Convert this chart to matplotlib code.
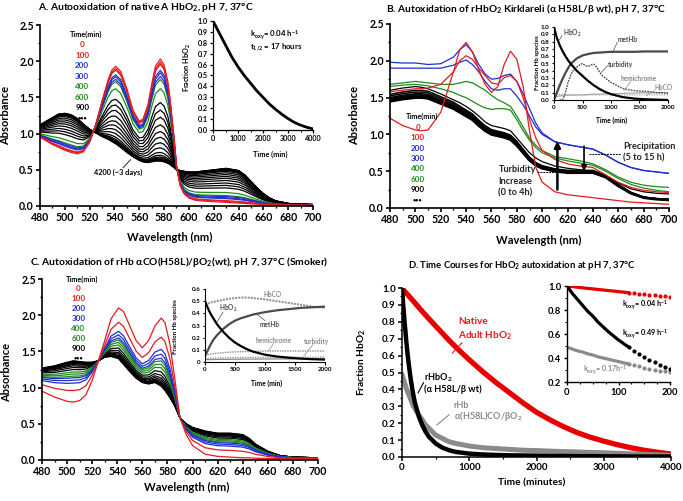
import numpy as np
import matplotlib
matplotlib.use('Agg')
import matplotlib.pyplot as plt
import matplotlib.font_manager as fm
from matplotlib.ticker import MultipleLocator, FormatStrFormatter

_bold_lato = [f for f in fm.fontManager.ttflist if f.name == 'Lato' and f.weight in (700, 'bold', 800, 900)]
MAINFONT = 'Lato' if _bold_lato else 'Open Sans'
plt.rcParams['font.family'] = [MAINFONT, 'DejaVu Sans']
plt.rcParams['font.weight'] = 'bold'
plt.rcParams['axes.labelweight'] = 'bold'
plt.rcParams['mathtext.fontset'] = 'custom'
plt.rcParams['mathtext.rm'] = MAINFONT + ':bold'
plt.rcParams['mathtext.it'] = MAINFONT + ':bold'
plt.rcParams['mathtext.bf'] = MAINFONT + ':bold'
plt.rcParams['mathtext.default'] = 'rm'

RED = '#e41b1f'
BLUE = '#1f2fd0'
GREEN = '#1c8c1c'
GRAY = '#8a8a8a'
DGRAY = '#4a4a4a'
LGRAY = '#a8a8a8'

# ---------------- Panel A data ----------------
wl_A = [480, 485, 490, 495, 500, 505, 510, 515, 520, 523, 525, 530, 535, 538, 541, 545,
        550, 555, 560, 563, 567, 570, 573, 577, 580, 583, 585, 588, 590, 593, 596, 600,
        605, 610, 620, 630, 640, 645, 650, 655, 660, 665, 670, 680, 690, 700]
hbo2_A = [0.95, 0.90, 0.85, 0.81, 0.77, 0.74, 0.72, 0.75, 0.88, 1.03, 1.13, 1.45, 1.75, 1.88, 1.93, 1.86,
          1.62, 1.32, 1.17, 1.20, 1.40, 1.68, 1.93, 2.03, 1.95, 1.72, 1.45, 0.95, 0.55, 0.28, 0.17, 0.11,
          0.08, 0.07, 0.06, 0.05, 0.04, 0.035, 0.03, 0.025, 0.02, 0.02, 0.015, 0.01, 0.01, 0.01]
methb_A = [1.12, 1.17, 1.22, 1.27, 1.28, 1.26, 1.21, 1.13, 1.06, 1.03, 1.01, 0.96, 0.92, 0.89, 0.86, 0.81,
           0.74, 0.68, 0.63, 0.61, 0.60, 0.61, 0.62, 0.62, 0.61, 0.59, 0.57, 0.53, 0.50, 0.49, 0.48, 0.47,
           0.47, 0.48, 0.50, 0.52, 0.49, 0.43, 0.34, 0.25, 0.17, 0.11, 0.07, 0.035, 0.025, 0.02]
fracA_red = [1.0, 0.97, 0.95]
fracA_blue = [0.89, 0.865, 0.83]
fracA_green = [0.80, 0.71]
fracA_black = [0.574, 0.50, 0.43, 0.355, 0.29, 0.234, 0.18, 0.13, 0.085, 0.057, 0.04, 0.028, 0.018, 0.01, 0.004, 0.0]
# inset A
tA = [0, 250, 500, 750, 1000, 1250, 1500, 1750, 2000, 2250, 2500, 2750, 3000, 3250, 3500, 3750, 4000]
fA = [1.0, 0.89, 0.78, 0.67, 0.58, 0.50, 0.43, 0.36, 0.30, 0.24, 0.19, 0.145, 0.105, 0.07, 0.045, 0.025, 0.01]

# ---------------- Panel B data ----------------
wl_B = [480, 490, 500, 505, 510, 520, 530, 535, 540, 545, 550, 555, 560, 565, 570, 575, 580, 585,
        590, 595, 600, 610, 620, 630, 640, 650, 660, 670, 680, 690, 700]
B_red0 = [1.22, 1.12, 1.06, 1.05, 1.06, 1.30, 1.85, 2.15, 2.25, 2.12, 1.88, 1.68, 1.57, 1.65, 1.95, 2.13, 2.02, 1.65,
          1.05, 0.55, 0.35, 0.22, 0.18, 0.16, 0.14, 0.12, 0.10, 0.08, 0.07, 0.06, 0.05]
B_red100 = [1.58, 1.60, 1.62, 1.62, 1.63, 1.68, 1.85, 2.00, 2.07, 2.02, 1.90, 1.80, 1.70, 1.68, 1.77, 1.80, 1.72, 1.50,
            1.20, 0.95, 0.78, 0.66, 0.60, 0.57, 0.55, 0.45, 0.35, 0.28, 0.24, 0.22, 0.21]
B_blue200 = [1.98, 1.97, 1.97, 1.96, 1.95, 1.96, 2.05, 2.15, 2.22, 2.12, 1.95, 1.82, 1.75, 1.76, 1.80, 1.82, 1.72, 1.55,
             1.35, 1.15, 1.02, 0.90, 0.86, 0.83, 0.80, 0.72, 0.62, 0.55, 0.51, 0.49, 0.47]
B_blue300 = [1.90, 1.90, 1.90, 1.90, 1.90, 1.90, 1.94, 1.98, 2.01, 1.95, 1.85, 1.72, 1.62, 1.60, 1.62, 1.62, 1.52, 1.40,
             1.25, 1.10, 1.00, 0.90, 0.86, 0.83, 0.80, 0.72, 0.62, 0.55, 0.51, 0.49, 0.47]
B_green400 = [1.68, 1.70, 1.72, 1.71, 1.70, 1.68, 1.68, 1.70, 1.72, 1.70, 1.65, 1.60, 1.53, 1.47, 1.43, 1.38, 1.25, 1.10,
              0.95, 0.85, 0.78, 0.70, 0.67, 0.64, 0.60, 0.52, 0.42, 0.35, 0.31, 0.29, 0.28]
B_green600 = [1.65, 1.67, 1.68, 1.67, 1.66, 1.62, 1.57, 1.53, 1.50, 1.45, 1.40, 1.36, 1.34, 1.35, 1.35, 1.33, 1.20, 1.05,
              0.92, 0.82, 0.75, 0.68, 0.64, 0.61, 0.58, 0.50, 0.40, 0.32, 0.27, 0.24, 0.22]
B_black900 = [1.60, 1.63, 1.65, 1.64, 1.62, 1.55, 1.47, 1.43, 1.38, 1.32, 1.25, 1.17, 1.12, 1.10, 1.08, 1.05, 0.95, 0.85,
              0.75, 0.68, 0.63, 0.57, 0.54, 0.52, 0.50, 0.43, 0.34, 0.26, 0.22, 0.20, 0.19]
B_black_final = [1.45, 1.48, 1.50, 1.50, 1.49, 1.42, 1.35, 1.30, 1.25, 1.20, 1.12, 1.05, 1.00, 0.98, 0.96, 0.93, 0.85, 0.75,
                 0.65, 0.58, 0.54, 0.50, 0.48, 0.48, 0.48, 0.42, 0.30, 0.20, 0.14, 0.12, 0.11]
B_black_scale = [1.0, 1.008, 1.016, 1.025, 1.035, 1.05, 1.065]
# inset B
tB = [0, 50, 100, 150, 200, 250, 300, 400, 500, 600, 700, 800, 900, 1000, 1200, 1400, 1600, 1800, 2000]
B_hbo2 = [1.0, 0.85, 0.75, 0.67, 0.60, 0.54, 0.49, 0.40, 0.33, 0.26, 0.20, 0.15, 0.11, 0.08, 0.04, 0.02, 0.01, 0.005, 0.0]
B_methb = [0.0, 0.10, 0.20, 0.29, 0.37, 0.44, 0.50, 0.57, 0.61, 0.63, 0.645, 0.65, 0.655, 0.66, 0.66, 0.66, 0.665, 0.665, 0.665]
B_hemi = [0.05, 0.05, 0.055, 0.06, 0.06, 0.065, 0.065, 0.07, 0.07, 0.075, 0.08, 0.08, 0.085, 0.085, 0.09, 0.095, 0.10, 0.10, 0.10]
B_hbco = [0.08, 0.08, 0.078, 0.076, 0.075, 0.074, 0.073, 0.072, 0.071, 0.07, 0.07, 0.07, 0.07, 0.07, 0.07, 0.07, 0.07, 0.07, 0.07]
tB_turb = [100, 150, 200, 250, 300, 350, 400, 450, 500, 550, 600, 650, 700, 750, 800, 850, 900, 950, 1000,
           1100, 1200, 1300, 1400, 1500, 1600, 1700, 1800, 1900, 2000]
B_turb = [0.0, 0.0, 0.10, 0.25, 0.35, 0.42, 0.45, 0.48, 0.50, 0.47, 0.46, 0.48, 0.49, 0.45, 0.38, 0.33, 0.30, 0.27, 0.24,
          0.20, 0.16, 0.14, 0.13, 0.12, 0.12, 0.11, 0.10, 0.10, 0.09]

# ---------------- Panel C data ----------------
wl_C = [480, 490, 500, 505, 510, 515, 520, 525, 530, 535, 541, 545, 550, 555, 560, 565, 570, 575, 578, 582,
        586, 590, 595, 600, 610, 620, 630, 640, 645, 650, 660, 670, 680, 690, 700]
C_start = [0.95, 0.87, 0.81, 0.80, 0.82, 0.90, 1.10, 1.37, 1.65, 1.95, 2.10, 2.05, 1.85, 1.65, 1.55, 1.65, 1.85, 1.96, 1.90, 1.60,
           1.10, 0.58, 0.35, 0.20, 0.08, 0.05, 0.04, 0.03, 0.03, 0.025, 0.02, 0.02, 0.02, 0.02, 0.02]
C_final = [1.27, 1.30, 1.35, 1.37, 1.36, 1.35, 1.35, 1.37, 1.42, 1.43, 1.40, 1.32, 1.22, 1.13, 1.07, 1.05, 1.07, 1.02, 0.96, 0.86,
           0.74, 0.58, 0.50, 0.45, 0.40, 0.37, 0.37, 0.35, 0.30, 0.22, 0.12, 0.06, 0.04, 0.035, 0.03]
fracC_red = [1.0, 0.72]
fracC_blue = [0.54, 0.47, 0.41]
fracC_green = [0.37, 0.32, 0.27]
fracC_black = [0.21, 0.16, 0.12, 0.09, 0.065, 0.045, 0.03, 0.018, 0.008, 0.0]
# inset C
tC = [0, 50, 100, 150, 200, 300, 400, 500, 600, 700, 800, 1000, 1200, 1400, 1600, 1800, 2000]
C_hbco = [0.47, 0.48, 0.49, 0.495, 0.50, 0.51, 0.52, 0.525, 0.53, 0.53, 0.525, 0.515, 0.50, 0.485, 0.47, 0.455, 0.445]
C_hbo2 = [0.50, 0.44, 0.39, 0.35, 0.31, 0.25, 0.20, 0.16, 0.13, 0.105, 0.085, 0.06, 0.045, 0.035, 0.028, 0.023, 0.02]
C_methb = [0.05, 0.10, 0.15, 0.19, 0.22, 0.27, 0.31, 0.34, 0.36, 0.375, 0.39, 0.41, 0.425, 0.435, 0.445, 0.45, 0.455]
C_hemi = [0.055, 0.06, 0.065, 0.07, 0.072, 0.077, 0.08, 0.083, 0.085, 0.087, 0.088, 0.09, 0.09, 0.09, 0.09, 0.09, 0.09]
C_turb = [0.03, 0.03, 0.031, 0.032, 0.033, 0.034, 0.035, 0.036, 0.037, 0.038, 0.038, 0.039, 0.04, 0.04, 0.04, 0.04, 0.04]
C_base = [0.02, 0.02, 0.02, 0.021, 0.021, 0.022, 0.022, 0.023, 0.023, 0.024, 0.024, 0.025, 0.025, 0.025, 0.026, 0.026, 0.026]

# ---------------- Panel D data ----------------
tD = [0, 10, 20, 30, 40, 50, 60, 70, 80, 90, 100, 110, 120, 130, 140, 150, 160, 170, 180, 190, 200,
      250, 300, 350, 400, 500, 600, 700, 800, 1000, 1200, 1400, 1600, 1800, 2000, 2200, 2400, 2600,
      2800, 3000, 3200, 3400, 3600, 3800, 4000]
D_native = [1.0, 0.995, 0.99, 0.985, 0.98, 0.976, 0.971, 0.967, 0.962, 0.958, 0.953, 0.949, 0.944, 0.94, 0.935,
            0.931, 0.926, 0.922, 0.917, 0.913, 0.908, 0.885, 0.862, 0.84, 0.818, 0.775, 0.733, 0.69, 0.65, 0.575,
            0.505, 0.44, 0.38, 0.32, 0.265, 0.22, 0.18, 0.145, 0.117, 0.094, 0.073, 0.055, 0.04, 0.028, 0.018]
D_kirk = [1.0, 0.94, 0.89, 0.84, 0.79, 0.75, 0.70, 0.66, 0.62, 0.585, 0.55, 0.52, 0.49, 0.46, 0.435,
          0.41, 0.385, 0.365, 0.345, 0.325, 0.31, 0.24, 0.19, 0.15, 0.12, 0.08, 0.055, 0.04, 0.03, 0.02,
          0.015, 0.012, 0.01, 0.009, 0.008, 0.007, 0.006, 0.005, 0.005, 0.004, 0.004, 0.003, 0.003, 0.003, 0.003]
D_smoker = [0.49, 0.475, 0.46, 0.45, 0.435, 0.425, 0.41, 0.40, 0.39, 0.38, 0.37, 0.36, 0.35, 0.34, 0.33,
            0.32, 0.31, 0.30, 0.295, 0.29, 0.28, 0.25, 0.22, 0.19, 0.17, 0.13, 0.11, 0.09, 0.08, 0.065,
            0.055, 0.05, 0.045, 0.04, 0.038, 0.035, 0.032, 0.03, 0.027, 0.025, 0.022, 0.019, 0.016, 0.013, 0.01]

# ---------------- figure ----------------
W, H = 683, 501
fig = plt.figure(figsize=(W / 100, H / 100), dpi=100)


def px_axes(x0, y0, x1, y1):
    return fig.add_axes([x0 / W, 1 - y1 / H, (x1 - x0) / W, (y1 - y0) / H])


def ftext(x, y, s, **kw):
    kw.setdefault('ha', 'center')
    kw.setdefault('va', 'center')
    return fig.text(x / W, 1 - y / H, s, **kw)


def style(ax, fs, lw=1.0, length=2.5):
    for s in ['top', 'right']:
        ax.spines[s].set_visible(False)
    for s in ['left', 'bottom']:
        ax.spines[s].set_linewidth(lw)
    ax.tick_params(which='major', labelsize=fs, length=length, width=lw, pad=1.5, direction='out')
    ax.tick_params(which='minor', length=length * 0.6, width=lw * 0.8, direction='out')
    for lab in ax.get_xticklabels() + ax.get_yticklabels():
        lab.set_fontweight('bold')


def spectra_axes(ax):
    ax.set_xlim(480, 700)
    ax.set_ylim(0, 2.5)
    ax.xaxis.set_major_locator(MultipleLocator(20))
    ax.xaxis.set_minor_locator(MultipleLocator(10))
    ax.yaxis.set_major_locator(MultipleLocator(0.5))
    ax.yaxis.set_minor_locator(MultipleLocator(0.25))
    ax.yaxis.set_major_formatter(FormatStrFormatter('%.1f'))
    style(ax, 7.6, lw=1.2, length=3)


def time_legend(ax, x, ytop, dy, fs=5.8):
    labels = ['0', '100', '200', '300', '400', '600', '900']
    cols = [RED, RED, BLUE, BLUE, GREEN, GREEN, 'black']
    ax.text(x + 3, ytop, 'Time(min)', fontsize=5.2, ha='center', va='center', color='black')
    for i, (l, c) in enumerate(zip(labels, cols)):
        ax.text(x, ytop - dy * (i + 1), l, fontsize=fs, ha='center', va='center', color=c)
    ax.text(x, ytop - dy * 8, '•••', fontsize=4.0, ha='center', va='center', color='black')


# ===== Panel A =====
axA = px_axes(40, 25, 313, 206)
spectra_axes(axA)
hA = np.array(hbo2_A)
mA = np.array(methb_A)
for f in fracA_black[::-1]:
    axA.plot(wl_A, f * hA + (1 - f) * mA, color='black', lw=0.9)
for fl, col in [(fracA_green, GREEN), (fracA_blue, BLUE), (fracA_red, RED)]:
    for f in fl[::-1]:
        axA.plot(wl_A, f * hA + (1 - f) * mA, color=col, lw=0.9)
time_legend(axA, 514, 2.37, 0.145)
axA.text(543, 0.47, '4200 (~3 days)', fontsize=5.3, ha='center', va='center')
axA.plot([547, 553], [0.53, 0.64], color='black', lw=0.6)
ftext(146, 8, 'A. Autooxidation of native A HbO$_2$, pH 7, 37°C', fontsize=7.4)
ftext(6, 115, 'Absorbance', fontsize=8.0, rotation=90)
ftext(170, 237, 'Wavelength (nm)', fontsize=8.0)

axAi = px_axes(213, 21, 313, 130)
axAi.plot(tA, fA, color='black', lw=2.0)
axAi.set_xlim(0, 4000)
axAi.set_ylim(0, 1.0)
axAi.xaxis.set_major_locator(MultipleLocator(1000))
axAi.xaxis.set_minor_locator(MultipleLocator(500))
axAi.yaxis.set_major_locator(MultipleLocator(0.1))
axAi.yaxis.set_major_formatter(FormatStrFormatter('%.1f'))
axAi.patch.set_alpha(0)
style(axAi, 5.2, lw=0.9, length=2)
axAi.text(1480, 0.87, 'k$_{oxy}$= 0.04 h$^{-1}$', fontsize=5.6, ha='left', va='center')
axAi.text(1480, 0.75, 't$_{1/2}$ = 17 hours', fontsize=5.6, ha='left', va='center')
ftext(187, 68, 'Fraction HbO$_2$', fontsize=5.2, rotation=90)
ftext(270, 154, 'Time (min)', fontsize=5.3)

# ===== Panel B =====
axB = px_axes(390, 24, 669, 208)
spectra_axes(axB)
bf = np.array(B_black_final)
for s in B_black_scale[::-1]:
    axB.plot(wl_B, bf * s, color='black', lw=1.1)
axB.plot(wl_B, bf, color='black', lw=2.0)
axB.plot(wl_B, B_black900, color='black', lw=0.9)
axB.plot(wl_B, B_green600, color=GREEN, lw=0.9)
axB.plot(wl_B, B_green400, color=GREEN, lw=0.9)
axB.plot(wl_B, B_blue300, color=BLUE, lw=0.9)
axB.plot(wl_B, B_blue200, color=BLUE, lw=0.9)
axB.plot(wl_B, B_red100, color=RED, lw=0.9)
axB.plot(wl_B, B_red0, color=RED, lw=0.9)
time_legend(axB, 502, 1.24, 0.142)
axB.annotate('', xy=(612, 0.91), xytext=(612, 0.25),
             arrowprops=dict(arrowstyle='-|>', lw=1.8, color='black', mutation_scale=9, shrinkA=0, shrinkB=0))
axB.annotate('', xy=(633, 0.50), xytext=(633, 0.84),
             arrowprops=dict(arrowstyle='-|>', lw=1.2, color='black', mutation_scale=8, shrinkA=0, shrinkB=0))
axB.plot([596, 611], [0.49, 0.49], color='black', lw=0.7, ls=(0, (2, 1)))
axB.plot([637, 662], [0.74, 0.74], color='black', lw=0.7, ls=(0, (2, 1)))
axB.text(565.5, 0.52, 'Turbidity', fontsize=6.6, ha='left', va='center', color='#222222')
axB.text(565.5, 0.36, 'Increase', fontsize=6.6, ha='left', va='center', color='#222222')
axB.text(565.5, 0.20, '(0 to 4h)', fontsize=6.6, ha='left', va='center', color='#222222')
axB.text(664, 0.84, 'Precipitation', fontsize=6.6, ha='left', va='center', color='#222222')
axB.text(664, 0.68, '(5 to 15 h)', fontsize=6.6, ha='left', va='center', color='#222222')
ftext(526, 9, 'B. Autoxidation of rHbO$_2$ Kirklareli (α H58L/β wt), pH 7, 37°C', fontsize=7.3)
ftext(355, 115, 'Absorbance', fontsize=8.0, rotation=90)
ftext(539, 240, 'Wavelength (nm)', fontsize=8.0)

axBi = px_axes(554, 27, 668, 100)
axBi.patch.set_alpha(0)
axBi.plot(tB, B_hemi, color=LGRAY, lw=0.9)
axBi.plot(tB, B_hbco, color=LGRAY, lw=0.9, ls=(0, (1, 1)))
axBi.plot(tB_turb, B_turb, color=DGRAY, lw=1.0, ls=(0, (1.2, 0.8)))
axBi.plot(tB, B_methb, color=DGRAY, lw=1.6)
axBi.plot(tB, B_hbo2, color='black', lw=1.6)
axBi.set_xlim(0, 2000)
axBi.set_ylim(0, 1.0)
axBi.xaxis.set_major_locator(MultipleLocator(500))
axBi.yaxis.set_major_locator(MultipleLocator(0.1))
axBi.yaxis.set_major_formatter(FormatStrFormatter('%.1f'))
style(axBi, 4.5, lw=0.8, length=1.8)
axBi.text(150, 0.91, 'HbO$_2$', fontsize=4.7, ha='left', va='center', color=DGRAY)
axBi.plot([140, 75], [0.88, 0.80], color=DGRAY, lw=0.5)
axBi.text(1120, 0.83, 'metHb', fontsize=4.7, ha='left', va='center', color=DGRAY)
axBi.plot([1110, 1040], [0.79, 0.67], color=DGRAY, lw=0.5)
axBi.text(950, 0.49, 'turbidity', fontsize=4.7, ha='left', va='center', color=DGRAY)
axBi.plot([940, 830], [0.47, 0.38], color=DGRAY, lw=0.5)
axBi.text(1170, 0.30, 'hemichrome', fontsize=4.7, ha='left', va='center', color=GRAY)
axBi.plot([1350, 1230], [0.26, 0.13], color=GRAY, lw=0.5)
axBi.text(1760, 0.17, 'HbCO', fontsize=4.7, ha='left', va='center', color=GRAY)
axBi.plot([1760, 1620], [0.13, 0.06], color=GRAY, lw=0.5)
ftext(538, 63, 'Fraction Hb species', fontsize=4.5, rotation=90)
ftext(612, 120, 'Time (min)', fontsize=4.8)

# ===== Panel C =====
axC = px_axes(42, 279, 318, 460)
spectra_axes(axC)
cs = np.array(C_start)
cf = np.array(C_final)
for f in fracC_black[::-1]:
    axC.plot(wl_C, f * cs + (1 - f) * cf, color='black', lw=0.9)
for fl, col in [(fracC_green, GREEN), (fracC_blue, BLUE), (fracC_red, RED)]:
    for f in fl[::-1]:
        axC.plot(wl_C, f * cs + (1 - f) * cf, color=col, lw=0.9)
time_legend(axC, 509, 2.50, 0.137)
ftext(179, 262, 'C. Autoxidation of rHb αCO(H58L)/βO$_2$(wt), pH 7, 37°C (Smoker)', fontsize=7.4)
ftext(7, 372, 'Absorbance', fontsize=8.0, rotation=90)
ftext(187, 487, 'Wavelength (nm)', fontsize=8.0)

axCi = px_axes(205, 289, 325, 362)
axCi.patch.set_alpha(0)
axCi.plot(tC, C_base, color=GRAY, lw=0.9)
axCi.plot(tC, C_turb, color=GRAY, lw=0.9, ls=(0, (1, 1)))
axCi.plot(tC, C_hemi, color=GRAY, lw=1.0, ls=(0, (1, 0.8)))
axCi.plot(tC, C_hbco, color=GRAY, lw=1.4, ls=(0, (1, 0.6)))
axCi.plot(tC, C_methb, color=DGRAY, lw=1.6)
axCi.plot(tC, C_hbo2, color='black', lw=1.6)
axCi.set_xlim(0, 2000)
axCi.set_ylim(0, 0.6)
axCi.xaxis.set_major_locator(MultipleLocator(500))
axCi.set_yticks([0, 0.1, 0.2, 0.3, 0.4, 0.5, 0.6])
axCi.set_yticklabels(['0', '0.1', '0.2', '0.3', '0.4', '0.5', '0.6'])
style(axCi, 4.5, lw=0.8, length=1.8)
axCi.text(1120, 0.556, 'HbCO', fontsize=4.7, ha='center', va='center', color=GRAY)
axCi.text(390, 0.44, 'HbO$_2$', fontsize=4.7, ha='center', va='center', color=DGRAY)
axCi.plot([300, 200], [0.41, 0.33], color=DGRAY, lw=0.5)
axCi.text(1070, 0.31, 'metHb', fontsize=4.7, ha='center', va='center', color=DGRAY)
axCi.plot([1000, 870], [0.34, 0.39], color=DGRAY, lw=0.5)
axCi.text(1150, 0.18, 'hemichrome', fontsize=4.7, ha='center', va='center', color=GRAY)
axCi.plot([1150, 1060], [0.155, 0.095], color=GRAY, lw=0.5)
axCi.text(1860, 0.17, 'turbidity', fontsize=4.7, ha='center', va='center', color=GRAY)
axCi.plot([1800, 1650], [0.145, 0.05], color=GRAY, lw=0.5)
ftext(175, 327, 'Fraction Hb species', fontsize=4.5, rotation=90)
ftext(267, 383, 'Time (min)', fontsize=4.8)

# ===== Panel D =====
axD = px_axes(402, 288, 671, 457)
axD.plot(tD, D_native, color='#e60000', lw=3.8, solid_capstyle='round')
axD.plot(tD, D_smoker, color=GRAY, lw=3.6, solid_capstyle='round')
axD.plot(tD, D_kirk, color='black', lw=3.2, solid_capstyle='round')
axD.set_xlim(0, 4000)
axD.set_ylim(0, 1.0)
axD.xaxis.set_major_locator(MultipleLocator(1000))
axD.xaxis.set_minor_locator(MultipleLocator(500))
axD.yaxis.set_major_locator(MultipleLocator(0.1))
axD.yaxis.set_minor_locator(MultipleLocator(0.05))
axD.yaxis.set_major_formatter(FormatStrFormatter('%.1f'))
style(axD, 7.0, lw=1.1, length=3)
axD.text(840, 0.80, 'Native', fontsize=7.2, ha='left', va='center', color=RED)
axD.text(840, 0.715, 'Adult HbO$_2$', fontsize=7.2, ha='left', va='center', color=RED)
axD.plot([890, 750], [0.675, 0.615], color=RED, lw=0.8)
axD.text(330, 0.47, 'rHbO$_2$', fontsize=6.6, ha='left', va='center', color='black')
axD.text(330, 0.40, '(α H58L/β wt)', fontsize=6.6, ha='left', va='center', color='black')
axD.plot([320, 240], [0.44, 0.38], color='black', lw=0.8)
axD.text(770, 0.305, 'rHb', fontsize=6.6, ha='left', va='center', color=GRAY)
axD.text(770, 0.24, 'α(H58L)CO/βO$_2$', fontsize=6.6, ha='left', va='center', color=GRAY)
axD.plot([700, 520], [0.25, 0.19], color=GRAY, lw=0.8)
ftext(522, 265, 'D. Time Courses for HbO$_2$ autoxidation at pH 7, 37°C', fontsize=6.8)
ftext(362, 362, 'Fraction HbO$_2$', fontsize=7.3, rotation=90)
ftext(532, 483, 'Time (minutes)', fontsize=7.3)

axDi = px_axes(567, 286, 670, 382)
axDi.patch.set_alpha(0)
tDa = np.array(tD)
for vals, col in [(D_native, '#e60000'), (D_smoker, GRAY), (D_kirk, 'black')]:
    v = np.array(vals)
    m1 = tDa <= 120
    m2 = (tDa >= 120) & (tDa <= 200)
    axDi.plot(tDa[m1], v[m1], color=col, lw=2.3, solid_capstyle='round')
    axDi.plot(tDa[m2], v[m2], 'o', color=col, ms=3.0, mew=0)
axDi.set_xlim(0, 200)
axDi.set_ylim(0.2, 1.0)
axDi.xaxis.set_major_locator(MultipleLocator(100))
axDi.xaxis.set_minor_locator(MultipleLocator(25))
axDi.yaxis.set_major_locator(MultipleLocator(0.2))
axDi.yaxis.set_minor_locator(MultipleLocator(0.1))
axDi.yaxis.set_major_formatter(FormatStrFormatter('%.1f'))
style(axDi, 6.8, lw=1.0, length=2.5)
axDi.text(107, 0.84, 'k$_{oxy}$= 0.04 h$^{-1}$', fontsize=5.2, ha='left', va='center')
axDi.text(107, 0.60, 'k$_{oxy}$= 0.49 h$^{-1}$', fontsize=5.2, ha='left', va='center')
axDi.text(31, 0.30, 'k$_{oxy}$= 0.17h$^{-1}$', fontsize=5.2, ha='left', va='center', color=GRAY)

fig.savefig('out.png', dpi=100)
